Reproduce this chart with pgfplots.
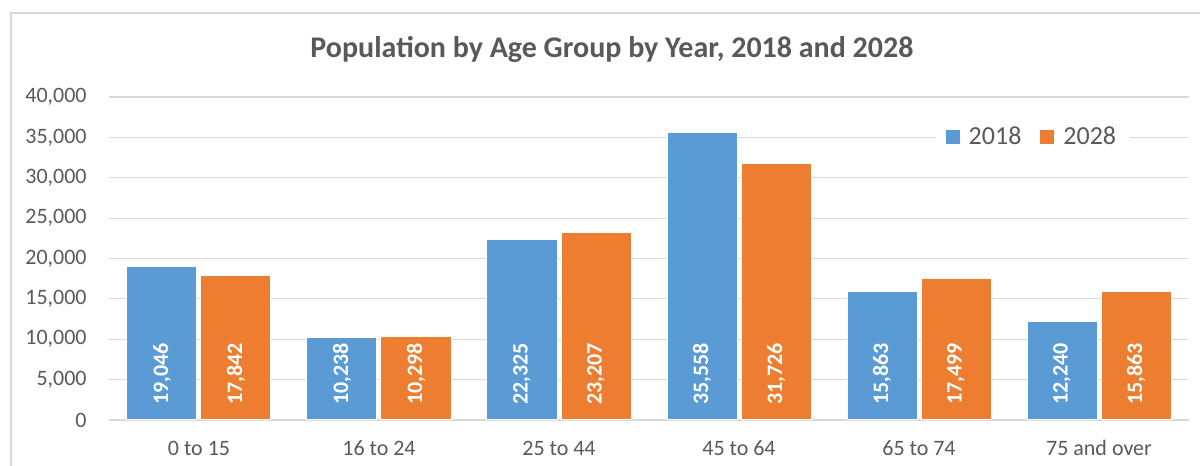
\documentclass[border=0pt]{standalone}
\usepackage{fontspec}
\setmainfont{Carlito}
\usepackage{pgfplots}
\pgfplotsset{compat=1.18}

\definecolor{barblue}{HTML}{5B9BD5}
\definecolor{barorange}{HTML}{ED7D31}
\definecolor{textgray}{HTML}{595959}
\definecolor{gridgray}{HTML}{D9D9D9}

% move a node near coord from the bar top down to just above the base
\tikzset{barbase/.code={%
    \pgfkeys{/pgf/fpu=true,/pgf/fpu/output format=fixed}%
    \pgfmathparse{7.5-\rawy/40000*161.5}%
    \let\labshift\pgfmathresult
    \pgfkeys{/pgf/fpu=false}%
    \tikzset{yshift=\labshift pt}}}

\begin{document}
\begin{tikzpicture}
% page = 1200 x 466 px at 0.5pt per px; plot area lower left at px (109,420)
\useasboundingbox (-54.5pt,-23pt) rectangle (545.5pt,210pt);
\draw[gridgray, line width=0.75pt] (545.5pt,203.5pt) -- (-49pt,203.5pt) -- (-49pt,-23pt);
\begin{axis}[
    at={(0,0)}, anchor=south west,
    scale only axis,
    width=540pt, height=161.5pt,
    ybar=2pt,
    bar width=35pt,
    xmin=-0.5, xmax=5.5,
    ymin=0, ymax=40000,
    xtick={0,...,5},
    xticklabels={0 to 15,16 to 24,25 to 44,45 to 64,65 to 74,75 and over},
    ytick distance=5000,
    scaled y ticks=false,
    /pgf/number format/1000 sep={,},
    /pgf/number format/assume math mode=true,
    axis line style={draw=none},
    major tick length=0pt,
    ymajorgrids,
    grid style={gridgray, line width=0.6pt},
    tick label style={font=\fontsize{11}{13}\selectfont, text=textgray},
    xticklabel style={anchor=base, yshift=-17.5pt},
    yticklabel style={anchor=east, inner sep=0pt, xshift=-11pt},
    title={Population by Age Group by Year, 2018 and 2028},
    title style={at={(0.4657,1.1486)}, anchor=center, yshift=-6pt, font=\bfseries\fontsize{15}{18}\selectfont, text=textgray},
    legend style={at={(0.8555,0.876)}, anchor=center, draw=none, fill=white,
        font=\fontsize{13}{15}\selectfont, text=textgray, inner xsep=5pt,
        /tikz/every odd column/.append style={column sep=2.5pt},
        /tikz/every even column/.append style={column sep=7.5pt}},
    legend columns=2,
    legend image code/.code={\fill[#1,draw=none] (0pt,-3.5pt) rectangle (7pt,3.5pt);},
    nodes near coords,
    visualization depends on={rawy \as \rawy},
    every node near coord/.append style={barbase, rotate=90, anchor=west, inner sep=0pt,
        font=\bfseries\fontsize{11}{13}\selectfont, text=white},
]

% 2018
\addplot[fill=barblue, draw=white, line width=0.5pt] coordinates {
    (0,19046) (1,10238) (2,22325) (3,35558) (4,15863) (5,12240)
};

% 2028
\addplot[fill=barorange, draw=white, line width=0.5pt] coordinates {
    (0,17842) (1,10298) (2,23207) (3,31726) (4,17499) (5,15863)
};

\legend{2018, 2028}
\end{axis}
\end{tikzpicture}
\end{document}
